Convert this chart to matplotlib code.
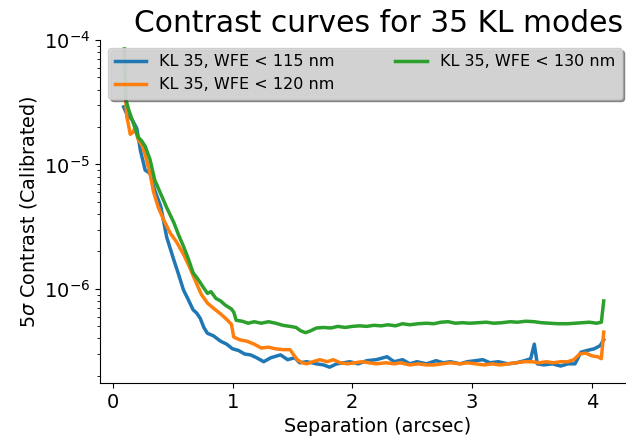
import matplotlib
matplotlib.use('Agg')
from matplotlib import pyplot as plt

# separation [arcsec] and 5-sigma contrast
sep_115 = [0.09, 0.12, 0.16, 0.20, 0.23, 0.27, 0.31, 0.35, 0.40, 0.45, 0.51, 0.55,
           0.59, 0.63, 0.67, 0.70, 0.73, 0.76, 0.79, 0.84, 0.90, 0.95, 1.00, 1.05,
           1.10, 1.15, 1.20, 1.26, 1.32, 1.40, 1.46, 1.52, 1.56, 1.62, 1.70, 1.76,
           1.81, 1.87, 1.93, 1.98, 2.05, 2.12, 2.20, 2.29, 2.35, 2.42, 2.48, 2.54,
           2.62, 2.70, 2.76, 2.82, 2.90, 2.96, 3.03, 3.09, 3.15, 3.22, 3.30, 3.37,
           3.44, 3.49, 3.52, 3.545, 3.60, 3.67, 3.74, 3.80, 3.86, 3.91, 3.96, 4.02,
           4.07, 4.10]
con_115 = [2.9e-5, 2.5e-5, 2.3e-5, 1.95e-5, 1.3e-5, 9.0e-6, 8.5e-6, 6.2e-6, 4.6e-6,
           2.6e-6, 1.7e-6, 1.3e-6, 9.8e-7, 8.2e-7, 6.8e-7, 6.4e-7, 5.8e-7, 4.9e-7,
           4.4e-7, 4.2e-7, 3.8e-7, 3.6e-7, 3.3e-7, 3.2e-7, 3.0e-7, 2.95e-7, 2.8e-7,
           2.6e-7, 2.8e-7, 2.95e-7, 2.7e-7, 2.8e-7, 2.55e-7, 2.6e-7, 2.5e-7, 2.45e-7,
           2.35e-7, 2.5e-7, 2.55e-7, 2.6e-7, 2.5e-7, 2.65e-7, 2.7e-7, 2.85e-7, 2.6e-7,
           2.7e-7, 2.5e-7, 2.6e-7, 2.5e-7, 2.65e-7, 2.55e-7, 2.6e-7, 2.5e-7, 2.6e-7,
           2.65e-7, 2.7e-7, 2.55e-7, 2.6e-7, 2.5e-7, 2.55e-7, 2.65e-7, 2.75e-7, 3.6e-7,
           2.5e-7, 2.45e-7, 2.5e-7, 2.4e-7, 2.5e-7, 2.5e-7, 3.1e-7, 3.2e-7, 3.3e-7,
           3.5e-7, 3.9e-7]

sep_120 = [0.105, 0.117, 0.13, 0.145, 0.165, 0.185, 0.21, 0.24, 0.27, 0.31, 0.34, 0.38,
           0.43, 0.48, 0.53, 0.59, 0.64, 0.70, 0.74, 0.79, 0.84, 0.90, 0.95, 0.99,
           1.01, 1.06, 1.12, 1.18, 1.24, 1.30, 1.36, 1.42, 1.48, 1.50, 1.54, 1.58,
           1.62, 1.67, 1.73, 1.79, 1.84, 1.90, 1.96, 2.02, 2.08, 2.14, 2.20, 2.28,
           2.35, 2.40, 2.48, 2.55, 2.62, 2.68, 2.75, 2.82, 2.90, 2.96, 3.03, 3.10,
           3.17, 3.23, 3.30, 3.37, 3.44, 3.50, 3.56, 3.62, 3.68, 3.74, 3.80, 3.85,
           3.90, 3.95, 4.00, 4.05, 4.08, 4.10]
con_120 = [3.5e-5, 2.4e-5, 2.1e-5, 1.75e-5, 1.8e-5, 1.95e-5, 1.6e-5, 1.45e-5, 1.2e-5,
           8.5e-6, 6.0e-6, 4.5e-6, 3.5e-6, 2.8e-6, 2.4e-6, 1.9e-6, 1.5e-6, 1.1e-6,
           9.0e-7, 7.7e-7, 7.0e-7, 6.3e-7, 5.7e-7, 5.2e-7, 4.1e-7, 3.9e-7, 3.8e-7,
           3.6e-7, 3.35e-7, 3.4e-7, 3.3e-7, 3.25e-7, 3.25e-7, 3.05e-7, 2.7e-7, 2.55e-7,
           2.5e-7, 2.6e-7, 2.7e-7, 2.6e-7, 2.7e-7, 2.55e-7, 2.5e-7, 2.55e-7, 2.6e-7,
           2.55e-7, 2.5e-7, 2.55e-7, 2.5e-7, 2.55e-7, 2.45e-7, 2.5e-7, 2.45e-7, 2.45e-7,
           2.5e-7, 2.55e-7, 2.5e-7, 2.55e-7, 2.5e-7, 2.45e-7, 2.5e-7, 2.45e-7, 2.5e-7,
           2.55e-7, 2.6e-7, 2.6e-7, 2.55e-7, 2.6e-7, 2.55e-7, 2.6e-7, 2.6e-7, 2.7e-7,
           3.0e-7, 3.05e-7, 2.9e-7, 2.85e-7, 2.75e-7, 4.5e-7]

sep_130 = [0.097, 0.105, 0.11, 0.13, 0.16, 0.19, 0.21, 0.24, 0.27, 0.31, 0.35, 0.40,
           0.45, 0.51, 0.55, 0.59, 0.63, 0.67, 0.71, 0.75, 0.79, 0.82, 0.86, 0.90,
           0.94, 0.99, 1.01, 1.03, 1.08, 1.13, 1.18, 1.24, 1.30, 1.36, 1.42, 1.48,
           1.53, 1.57, 1.61, 1.65, 1.70, 1.76, 1.82, 1.88, 1.94, 2.00, 2.06, 2.12,
           2.18, 2.24, 2.30, 2.36, 2.42, 2.48, 2.55, 2.62, 2.68, 2.74, 2.80, 2.86,
           2.92, 2.98, 3.05, 3.12, 3.18, 3.25, 3.32, 3.38, 3.45, 3.52, 3.58, 3.65,
           3.72, 3.80, 3.86, 3.92, 3.98, 4.04, 4.08, 4.10]
con_130 = [8.5e-5, 4.5e-5, 3.3e-5, 2.8e-5, 2.3e-5, 1.9e-5, 1.66e-5, 1.55e-5, 1.4e-5,
           1.1e-5, 7.5e-6, 5.8e-6, 4.5e-6, 3.4e-6, 2.7e-6, 2.2e-6, 1.75e-6, 1.35e-6,
           1.2e-6, 1.05e-6, 9.2e-7, 9.5e-7, 8.4e-7, 8.0e-7, 7.4e-7, 6.9e-7, 6.5e-7,
           5.6e-7, 5.5e-7, 5.3e-7, 5.45e-7, 5.3e-7, 5.45e-7, 5.3e-7, 5.1e-7, 5.0e-7,
           4.9e-7, 4.6e-7, 4.45e-7, 4.6e-7, 4.85e-7, 4.9e-7, 4.85e-7, 5.0e-7, 4.9e-7,
           5.0e-7, 5.05e-7, 5.0e-7, 5.1e-7, 5.05e-7, 5.15e-7, 5.05e-7, 5.25e-7, 5.15e-7,
           5.25e-7, 5.3e-7, 5.25e-7, 5.4e-7, 5.45e-7, 5.3e-7, 5.35e-7, 5.3e-7, 5.35e-7,
           5.4e-7, 5.3e-7, 5.35e-7, 5.45e-7, 5.4e-7, 5.5e-7, 5.45e-7, 5.35e-7, 5.3e-7,
           5.25e-7, 5.25e-7, 5.3e-7, 5.35e-7, 5.4e-7, 5.3e-7, 5.4e-7, 8.0e-7]

labels = ['KL 35, WFE < 115 nm', 'KL 35, WFE < 120 nm', 'KL 35, WFE < 130 nm']

fig = plt.figure(figsize=(6.26, 4.40), dpi=100)
ax = fig.add_axes([0.16, 0.13, 0.888, 0.779])

ax.plot(sep_115, con_115, color='tab:blue', lw=2.5, label=labels[0])
ax.plot(sep_120, con_120, color='tab:orange', lw=2.5, label=labels[1])
ax.plot(sep_130, con_130, color='tab:green', lw=2.5, label=labels[2])

ax.set_yscale('log')
ax.set_ylim(1.76e-7, 1e-4)
ax.set_xlim(-0.106, 4.537)
ax.set_xticks([0, 1, 2, 3, 4])
ax.spines['top'].set_visible(False)
ax.spines['right'].set_visible(False)
ax.tick_params(labelsize=14)

ax.set_title('Contrast curves for 35 KL modes', fontsize=21.4)
ax.set_xlabel('Separation (arcsec)', fontsize=13.8)
ax.set_ylabel(r'5$\sigma$ Contrast (Calibrated)', fontsize=13.8)

leg = ax.legend(loc='upper left', ncol=2, fontsize=11.5, shadow=True, fancybox=True,
                facecolor='#d8d8d8', framealpha=0.9, columnspacing=3.8,
                borderaxespad=0.5)

plt.savefig('out.png', dpi=100)
